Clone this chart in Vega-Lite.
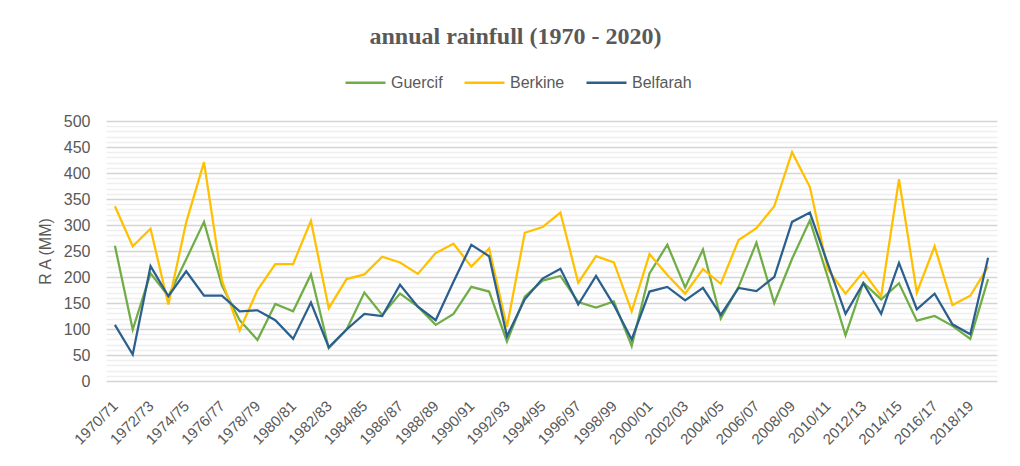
{
  "$schema": "https://vega.github.io/schema/vega-lite/v6.json",
  "width": 891,
  "height": 260,
  "autosize": {"type": "none"},
  "padding": {"left": 106, "top": 121, "right": 23, "bottom": 85},
  "background": "white",
  "config": {"view": {"stroke": null}, "font": "Liberation Sans"},
  "title": {
    "text": "annual rainfull (1970 - 2020)",
    "font": "Liberation Serif",
    "fontSize": 24,
    "fontWeight": "bold",
    "color": "#595959",
    "anchor": "middle",
    "frame": "group",
    "dx": -36,
    "offset": -7,
    "baseline": "alphabetic"
  },
  "data": {
    "values": [
      {"year": "1970/71", "Guercif": 260, "Berkine": 336, "Belfarah": 108},
      {"year": "1971/72", "Guercif": 99, "Berkine": 259, "Belfarah": 51},
      {"year": "1972/73", "Guercif": 207, "Berkine": 293, "Belfarah": 221},
      {"year": "1973/74", "Guercif": 163, "Berkine": 147, "Belfarah": 163},
      {"year": "1974/75", "Guercif": 234, "Berkine": 305, "Belfarah": 211},
      {"year": "1975/76", "Guercif": 306, "Berkine": 421, "Belfarah": 164},
      {"year": "1976/77", "Guercif": 184, "Berkine": 194, "Belfarah": 164},
      {"year": "1977/78", "Guercif": 117, "Berkine": 97, "Belfarah": 134},
      {"year": "1978/79", "Guercif": 79, "Berkine": 175, "Belfarah": 136},
      {"year": "1979/80", "Guercif": 148, "Berkine": 225, "Belfarah": 117},
      {"year": "1980/81", "Guercif": 134, "Berkine": 225, "Belfarah": 81},
      {"year": "1981/82", "Guercif": 205, "Berkine": 308, "Belfarah": 151},
      {"year": "1982/83", "Guercif": 63, "Berkine": 140, "Belfarah": 65},
      {"year": "1983/84", "Guercif": 99, "Berkine": 196, "Belfarah": 99},
      {"year": "1984/85", "Guercif": 170, "Berkine": 205, "Belfarah": 129},
      {"year": "1985/86", "Guercif": 127, "Berkine": 239, "Belfarah": 125},
      {"year": "1986/87", "Guercif": 168, "Berkine": 228, "Belfarah": 185},
      {"year": "1987/88", "Guercif": 143, "Berkine": 206, "Belfarah": 143},
      {"year": "1988/89", "Guercif": 108, "Berkine": 246, "Belfarah": 117},
      {"year": "1989/90", "Guercif": 129, "Berkine": 264, "Belfarah": 191},
      {"year": "1990/91", "Guercif": 181, "Berkine": 220, "Belfarah": 262},
      {"year": "1991/92", "Guercif": 172, "Berkine": 255, "Belfarah": 240},
      {"year": "1992/93", "Guercif": 76, "Berkine": 104, "Belfarah": 86},
      {"year": "1993/94", "Guercif": 162, "Berkine": 285, "Belfarah": 157},
      {"year": "1994/95", "Guercif": 193, "Berkine": 296, "Belfarah": 197},
      {"year": "1995/96", "Guercif": 202, "Berkine": 324, "Belfarah": 216},
      {"year": "1996/97", "Guercif": 152, "Berkine": 189, "Belfarah": 147},
      {"year": "1997/98", "Guercif": 141, "Berkine": 240, "Belfarah": 202},
      {"year": "1998/99", "Guercif": 153, "Berkine": 228, "Belfarah": 146},
      {"year": "1999/00", "Guercif": 67, "Berkine": 134, "Belfarah": 80},
      {"year": "2000/01", "Guercif": 207, "Berkine": 244, "Belfarah": 172},
      {"year": "2001/02", "Guercif": 262, "Berkine": 204, "Belfarah": 181},
      {"year": "2002/03", "Guercif": 180, "Berkine": 168, "Belfarah": 155},
      {"year": "2003/04", "Guercif": 253, "Berkine": 215, "Belfarah": 179},
      {"year": "2004/05", "Guercif": 120, "Berkine": 187, "Belfarah": 127},
      {"year": "2005/06", "Guercif": 181, "Berkine": 271, "Belfarah": 179},
      {"year": "2006/07", "Guercif": 266, "Berkine": 294, "Belfarah": 173},
      {"year": "2007/08", "Guercif": 150, "Berkine": 336, "Belfarah": 200},
      {"year": "2008/09", "Guercif": 235, "Berkine": 440, "Belfarah": 306},
      {"year": "2009/10", "Guercif": 309, "Berkine": 373, "Belfarah": 324},
      {"year": "2010/11", "Guercif": 200, "Berkine": 215, "Belfarah": 226},
      {"year": "2011/12", "Guercif": 88, "Berkine": 168, "Belfarah": 129},
      {"year": "2012/13", "Guercif": 189, "Berkine": 210, "Belfarah": 188},
      {"year": "2013/14", "Guercif": 157, "Berkine": 163, "Belfarah": 129},
      {"year": "2014/15", "Guercif": 188, "Berkine": 388, "Belfarah": 227},
      {"year": "2015/16", "Guercif": 116, "Berkine": 170, "Belfarah": 138},
      {"year": "2016/17", "Guercif": 125, "Berkine": 259, "Belfarah": 168},
      {"year": "2017/18", "Guercif": 106, "Berkine": 146, "Belfarah": 109},
      {"year": "2018/19", "Guercif": 81, "Berkine": 164, "Belfarah": 90},
      {"year": "2019/20", "Guercif": 196, "Berkine": 220, "Belfarah": 237}
    ]
  },
  "transform": [
    {"fold": ["Guercif", "Berkine", "Belfarah"], "as": ["station", "value"]}
  ],
  "mark": {"type": "line", "strokeWidth": 2.25, "interpolate": "linear"},
  "encoding": {
    "x": {
      "field": "year",
      "type": "ordinal",
      "sort": null,
      "scale": {"padding": 0.5},
      "axis": {
        "title": null,
        "values": ["1970/71", "1972/73", "1974/75", "1976/77", "1978/79", "1980/81", "1982/83", "1984/85", "1986/87", "1988/89", "1990/91", "1992/93", "1994/95", "1996/97", "1998/99", "2000/01", "2002/03", "2004/05", "2006/07", "2008/09", "2010/11", "2012/13", "2014/15", "2016/17", "2018/19"],
        "labelAngle": -45,
        "labelAlign": "right",
        "labelBaseline": "middle",
        "labelFontSize": 15,
        "labelColor": "#595959",
        "labelPadding": 22,
        "labelOverlap": false,
        "ticks": false,
        "domain": false,
        "grid": false
      }
    },
    "y": {
      "field": "value",
      "type": "quantitative",
      "scale": {"domain": [0, 500], "nice": false},
      "axis": {
        "title": "R A (MM)",
        "titleFontSize": 16,
        "titleFontWeight": "normal",
        "titleColor": "#595959",
        "titlePadding": 10,
        "values": [0, 10, 20, 30, 40, 50, 60, 70, 80, 90, 100, 110, 120, 130, 140, 150, 160, 170, 180, 190, 200, 210, 220, 230, 240, 250, 260, 270, 280, 290, 300, 310, 320, 330, 340, 350, 360, 370, 380, 390, 400, 410, 420, 430, 440, 450, 460, 470, 480, 490, 500],
        "labelExpr": "datum.value % 50 === 0 ? datum.label : ''",
        "labelFontSize": 16,
        "labelColor": "#595959",
        "labelPadding": 16,
        "ticks": false,
        "domain": false,
        "grid": true,
        "gridWidth": 1.5,
        "gridColor": {"condition": {"test": "datum.value % 50 === 0", "value": "#d4d4d4"}, "value": "#efefef"}
      }
    },
    "color": {
      "field": "station",
      "type": "nominal",
      "scale": {"domain": ["Guercif", "Berkine", "Belfarah"], "range": ["#70AD47", "#FFC000", "#2B5F8E"]},
      "legend": {
        "title": null,
        "orient": "none",
        "direction": "horizontal",
        "legendX": 238,
        "legendY": -60,
        "symbolType": "stroke",
        "symbolSize": 1600,
        "symbolStrokeWidth": 2.5,
        "labelFontSize": 16,
        "labelColor": "#595959",
        "labelOffset": 4,
        "columnPadding": 16
      }
    }
  }
}
